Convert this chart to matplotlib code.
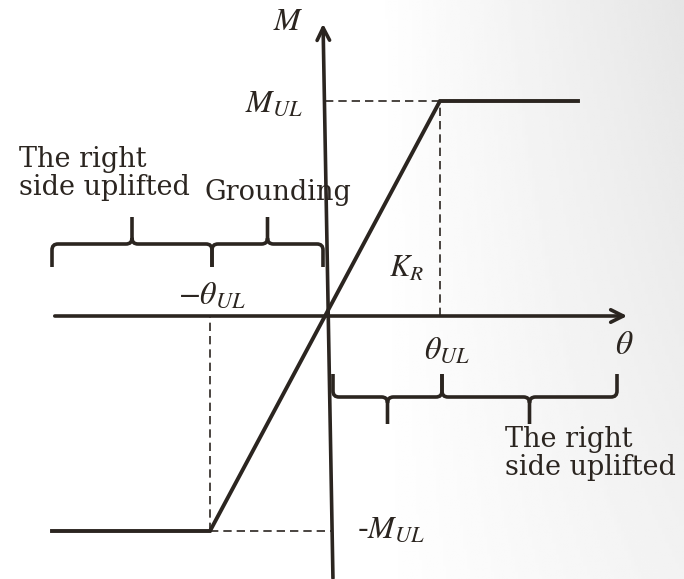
import numpy as np
import matplotlib
matplotlib.use("Agg")
import matplotlib.pyplot as plt
from matplotlib.path import Path
from matplotlib.patches import PathPatch

plt.rcParams['mathtext.fontset'] = 'stix'
plt.rcParams['font.family'] = ['DejaVu Serif']

# drawing units (schematic), origin at the axis crossing
theta_UL = 115
M_UL = 215
theta_min, theta_max = -273, 253
curve_theta = [theta_min, -theta_UL, theta_UL, theta_max]
curve_M = [-M_UL, -M_UL, M_UL, M_UL]

# brace spans: (start, end)
upper_braces = [(-273, -113), (-113, -2)]
lower_braces = [(8, 117), (117, 292)]
upper_level, lower_level = 72, -81

ink = '#2b2520'

fig = plt.figure(figsize=(6.84, 5.79), dpi=100)
ax = fig.add_axes([0, 0, 1, 1])
ax.set_xlim(-325, 359)
ax.set_ylim(-263, 316)
ax.axis('off')

# light grey shading toward the right edge
gx = np.linspace(0, 1, 200)
gy = np.linspace(0, 1, 200)
GX, GY = np.meshgrid(gx, gy)
shade = 1 - 0.10 * np.clip(GX - 0.55, 0, None) / 0.45 * (0.5 + 0.5 * (1 - GY))
ax.imshow(shade, cmap='gray', vmin=0, vmax=1, extent=[-325, 359, -263, 316],
          aspect='auto', zorder=0, origin='upper')

# axes with arrows
ax.annotate('', xy=(305, 0), xytext=(theta_min, 0),
            arrowprops=dict(arrowstyle='->,head_length=0.9,head_width=0.45', lw=2.6, color=ink))
ax.annotate('', xy=(-2, 295), xytext=(8, -265),
            arrowprops=dict(arrowstyle='->,head_length=0.9,head_width=0.45', lw=2.6, color=ink))

# moment-rotation curve
ax.plot(curve_theta, curve_M, color=ink, lw=2.8, solid_joinstyle='miter', zorder=3)

# dashed guides
dash = (0, (5, 3))
ax.plot([0, theta_UL], [M_UL, M_UL], ls=dash, color=ink, lw=1.2)
ax.plot([theta_UL, theta_UL], [0, M_UL], ls=dash, color=ink, lw=1.2)
ax.plot([-theta_UL, 6], [-M_UL, -M_UL], ls=dash, color=ink, lw=1.2)
ax.plot([-theta_UL, -theta_UL], [-M_UL, 0], ls=dash, color=ink, lw=1.2)


def brace(x0, x1, y, d, h_end=23, h_tip=27, r=6):
    xm = (x0 + x1) / 2
    verts = [(x0, y - h_end * d), (x0, y - r * d), (x0, y), (x0 + r, y),
             (xm - r, y), (xm, y), (xm, y + r * d), (xm, y + h_tip * d),
             (xm, y + r * d), (xm, y), (xm + r, y),
             (x1 - r, y), (x1, y), (x1, y - r * d), (x1, y - h_end * d)]
    codes = [Path.MOVETO, Path.LINETO, Path.CURVE3, Path.CURVE3,
             Path.LINETO, Path.CURVE3, Path.CURVE3, Path.LINETO,
             Path.MOVETO, Path.CURVE3, Path.CURVE3,
             Path.LINETO, Path.CURVE3, Path.CURVE3, Path.LINETO]
    ax.add_patch(PathPatch(Path(verts, codes), fill=False, lw=2.6,
                           edgecolor=ink, capstyle='butt'))


for a, b in upper_braces:
    brace(a, b, upper_level, 1)
for a, b in lower_braces:
    brace(a, b, lower_level, -1)

# labels
fs = 19.5
ax.text(-37, 294, '$M$', fontsize=23, ha='center', va='center', color=ink)
ax.text(-22, 213, '$M_{UL}$', fontsize=23, ha='right', va='center', color=ink)
ax.text(32, -213, '-$M_{UL}$', fontsize=23, ha='left', va='center', color=ink)
ax.text(-113, 21, r'$-\theta_{UL}$', fontsize=23, ha='center', va='center', color=ink)
ax.text(122, -34, r'$\theta_{UL}$', fontsize=23, ha='center', va='center', color=ink)
ax.text(299, -29, r'$\theta$', fontsize=24, ha='center', va='center', color=ink)
ax.text(64, 48, '$K_R$', fontsize=22, ha='left', va='center', color=ink)

ax.text(-306, 170, 'The right\nside uplifted', fontsize=fs, ha='left', va='top',
        linespacing=1.05, color=ink)
ax.text(-120, 124, 'Grounding', fontsize=fs, ha='left', va='center', color=ink)
ax.text(180, -110, 'The right\nside uplifted', fontsize=fs, ha='left', va='top',
        linespacing=1.05, color=ink)

fig.savefig('out.png', dpi=100)
